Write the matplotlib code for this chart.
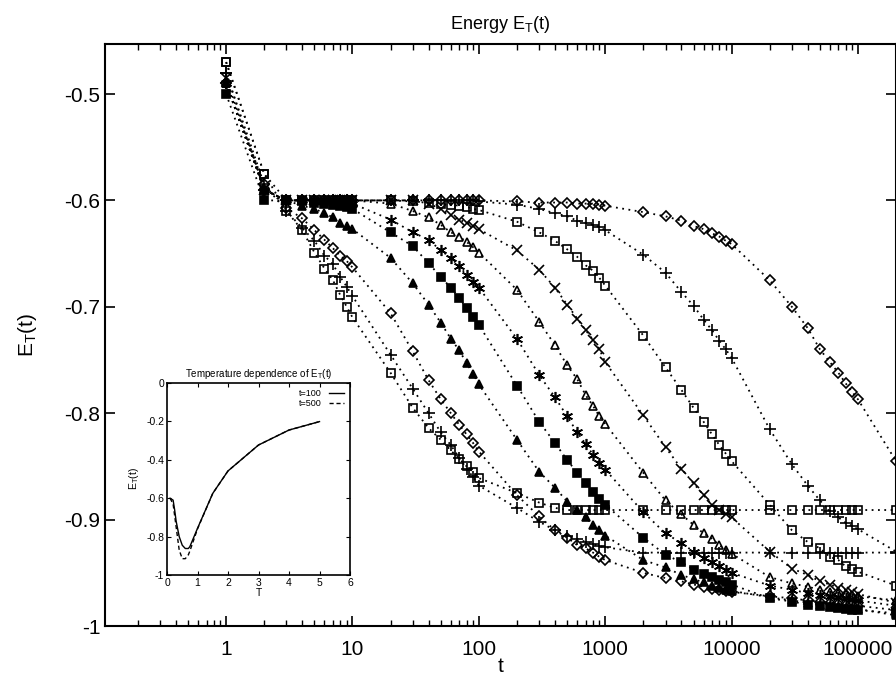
import matplotlib.pyplot as plt
from matplotlib.ticker import FixedLocator, FuncFormatter, LogLocator, NullFormatter

plt.rcParams['font.family'] = ['Liberation Sans', 'DejaVu Sans']
plt.rcParams['mathtext.default'] = 'regular'
plt.rcParams['axes.unicode_minus'] = False

# time grid: 1..9 per decade, then 1e5 and 2e5
t = [1, 2, 3, 4, 5, 6, 7, 8, 9,
     10, 20, 30, 40, 50, 60, 70, 80, 90,
     100, 200, 300, 400, 500, 600, 700, 800, 900,
     1000, 2000, 3000, 4000, 5000, 6000, 7000, 8000, 9000,
     10000, 20000, 30000, 40000, 50000, 60000, 70000, 80000, 90000,
     100000, 200000]

# energy curves, slowest first
e_dia1 = [-0.490, -0.590, -0.600, -0.600, -0.600, -0.600, -0.600, -0.600, -0.600,
          -0.600, -0.600, -0.600, -0.600, -0.600, -0.600, -0.600, -0.600, -0.600,
          -0.600, -0.601, -0.602, -0.602, -0.602, -0.603, -0.603, -0.603, -0.604,
          -0.605, -0.611, -0.615, -0.619, -0.624, -0.627, -0.631, -0.634, -0.638,
          -0.641, -0.675, -0.700, -0.720, -0.740, -0.752, -0.762, -0.772, -0.780,
          -0.787, -0.845]
e_pls1 = [-0.480, -0.590, -0.600, -0.600, -0.600, -0.600, -0.600, -0.600, -0.600,
          -0.600, -0.600, -0.600, -0.600, -0.600, -0.600, -0.600, -0.600, -0.600,
          -0.601, -0.604, -0.608, -0.612, -0.615, -0.619, -0.621, -0.623, -0.625,
          -0.628, -0.651, -0.668, -0.686, -0.699, -0.712, -0.722, -0.732, -0.740,
          -0.748, -0.815, -0.848, -0.868, -0.882, -0.892, -0.898, -0.903, -0.906,
          -0.909, -0.930]
e_box1 = [-0.470, -0.575, -0.600, -0.600, -0.600, -0.600, -0.600, -0.600, -0.600,
          -0.600, -0.600, -0.601, -0.602, -0.603, -0.604, -0.605, -0.606, -0.608,
          -0.609, -0.620, -0.630, -0.638, -0.646, -0.653, -0.661, -0.666, -0.673,
          -0.680, -0.727, -0.757, -0.778, -0.795, -0.808, -0.820, -0.830, -0.838,
          -0.845, -0.886, -0.910, -0.921, -0.927, -0.935, -0.938, -0.944, -0.946,
          -0.949, -0.962]
e_crs = [-0.485, -0.590, -0.600, -0.600, -0.600, -0.600, -0.600, -0.600, -0.600,
         -0.600, -0.600, -0.600, -0.603, -0.608, -0.614, -0.618, -0.621, -0.624,
         -0.627, -0.647, -0.665, -0.682, -0.698, -0.711, -0.722, -0.731, -0.740,
         -0.752, -0.802, -0.832, -0.852, -0.866, -0.877, -0.886, -0.891, -0.895,
         -0.898, -0.930, -0.946, -0.952, -0.958, -0.961, -0.964, -0.966, -0.968,
         -0.970, -0.978]
e_tri = [-0.490, -0.590, -0.600, -0.600, -0.600, -0.600, -0.600, -0.600, -0.600,
         -0.600, -0.603, -0.610, -0.616, -0.623, -0.630, -0.634, -0.639, -0.644,
         -0.649, -0.684, -0.714, -0.736, -0.755, -0.768, -0.783, -0.793, -0.803,
         -0.810, -0.856, -0.882, -0.895, -0.905, -0.913, -0.918, -0.924, -0.929,
         -0.932, -0.954, -0.960, -0.963, -0.966, -0.968, -0.969, -0.970, -0.971,
         -0.972, -0.976]
e_star = [-0.490, -0.590, -0.600, -0.600, -0.600, -0.600, -0.600, -0.600, -0.600,
          -0.603, -0.618, -0.630, -0.637, -0.647, -0.654, -0.662, -0.670, -0.677,
          -0.682, -0.730, -0.764, -0.785, -0.803, -0.818, -0.829, -0.839, -0.847,
          -0.853, -0.893, -0.913, -0.922, -0.930, -0.936, -0.940, -0.944, -0.947,
          -0.950, -0.962, -0.966, -0.969, -0.971, -0.972, -0.973, -0.974, -0.975,
          -0.976, -0.981]
e_boxf = [-0.500, -0.600, -0.600, -0.601, -0.602, -0.603, -0.604, -0.605, -0.606,
          -0.608, -0.630, -0.643, -0.659, -0.672, -0.682, -0.692, -0.701, -0.710,
          -0.717, -0.774, -0.808, -0.828, -0.844, -0.856, -0.866, -0.874, -0.881,
          -0.886, -0.917, -0.933, -0.940, -0.947, -0.951, -0.954, -0.957, -0.959,
          -0.961, -0.974, -0.977, -0.980, -0.981, -0.982, -0.983, -0.984, -0.985,
          -0.985, -0.988]
e_trif = [-0.490, -0.590, -0.600, -0.605, -0.608, -0.612, -0.616, -0.621, -0.624,
          -0.627, -0.654, -0.678, -0.698, -0.715, -0.730, -0.741, -0.753, -0.763,
          -0.773, -0.825, -0.855, -0.870, -0.883, -0.891, -0.898, -0.905, -0.910,
          -0.915, -0.938, -0.945, -0.952, -0.956, -0.959, -0.962, -0.964, -0.966,
          -0.967, -0.973, -0.976, -0.978, -0.980, -0.981, -0.982, -0.983, -0.984,
          -0.984, -0.990]
e_dia2 = [-0.490, -0.585, -0.607, -0.617, -0.628, -0.637, -0.645, -0.652, -0.657,
          -0.663, -0.706, -0.742, -0.769, -0.787, -0.800, -0.811, -0.820, -0.828,
          -0.836, -0.877, -0.897, -0.910, -0.917, -0.924, -0.927, -0.931, -0.935,
          -0.938, -0.950, -0.955, -0.958, -0.961, -0.963, -0.965, -0.966, -0.967,
          -0.968, -0.972, -0.974, -0.976, -0.977, -0.978, -0.979, -0.980, -0.980,
          -0.981, -0.985]
e_pls2 = [-0.480, -0.585, -0.610, -0.626, -0.638, -0.652, -0.660, -0.672, -0.681,
          -0.690, -0.745, -0.777, -0.800, -0.818, -0.830, -0.842, -0.852, -0.860,
          -0.868, -0.889, -0.902, -0.910, -0.915, -0.918, -0.921, -0.923, -0.925,
          -0.926, -0.931, -0.931, -0.931, -0.931, -0.931, -0.931, -0.931, -0.931,
          -0.931, -0.931, -0.931, -0.931, -0.931, -0.931, -0.931, -0.931, -0.931,
          -0.931, -0.931]
e_box2 = [-0.470, -0.575, -0.610, -0.628, -0.649, -0.664, -0.675, -0.689, -0.700,
          -0.710, -0.762, -0.795, -0.814, -0.825, -0.835, -0.843, -0.850, -0.855,
          -0.861, -0.875, -0.884, -0.889, -0.891, -0.891, -0.891, -0.891, -0.891,
          -0.891, -0.891, -0.891, -0.891, -0.891, -0.891, -0.891, -0.891, -0.891,
          -0.891, -0.891, -0.891, -0.891, -0.891, -0.891, -0.891, -0.891, -0.891,
          -0.891, -0.891]

# inset: E at fixed t versus temperature T
T100 = [0.1, 0.2, 0.25, 0.3, 0.4, 0.5, 0.6, 0.7, 0.75, 1.0, 1.5, 2.0, 3.0, 4.0, 5.0]
E100 = [-0.60, -0.61, -0.66, -0.72, -0.80, -0.845, -0.862, -0.862, -0.852,
        -0.757, -0.575, -0.458, -0.323, -0.245, -0.201]
T500 = [0.1, 0.2, 0.3, 0.4, 0.5, 0.6, 0.7, 0.75, 1.0, 1.5, 2.0, 3.0, 4.0, 5.0]
E500 = [-0.60, -0.63, -0.75, -0.87, -0.915, -0.915, -0.895, -0.875,
        -0.76, -0.575, -0.458, -0.323, -0.245, -0.201]

series = [
    (e_dia1, dict(marker='D', ms=5, mfc='none')),
    (e_pls1, dict(marker='+', ms=8)),
    (e_box1, dict(marker='s', ms=6, mfc='none')),
    (e_crs, dict(marker='x', ms=7)),
    (e_tri, dict(marker='^', ms=6, mfc='none')),
    (e_star, dict(marker=(6, 2, 0), ms=8)),
    (e_boxf, dict(marker='s', ms=6)),
    (e_trif, dict(marker='^', ms=6)),
    (e_dia2, dict(marker='D', ms=5, mfc='none')),
    (e_pls2, dict(marker='+', ms=8)),
    (e_box2, dict(marker='s', ms=6, mfc='none')),
]

fig = plt.figure(figsize=(8.96, 6.8), dpi=100)
ax = fig.add_axes([105 / 896, 54 / 680, 791 / 896, 582 / 680])

for e, style in series:
    ax.plot(t, e, color='black', linestyle=(0, (1, 2.5)), linewidth=1.3,
            mec='black', mew=1.2, **style)

ax.set_xscale('log')
ax.set_xlim(0.11, 2e5)
ax.set_ylim(-1.0, -0.453)
ax.xaxis.set_major_locator(FixedLocator([1, 10, 100, 1000, 10000, 100000]))
ax.xaxis.set_major_formatter(FuncFormatter(lambda v, p: f'{v:.0f}'))
ax.xaxis.set_minor_locator(LogLocator(base=10, subs=range(2, 10)))
ax.xaxis.set_minor_formatter(NullFormatter())
ax.yaxis.set_major_locator(FixedLocator([-1.0, -0.9, -0.8, -0.7, -0.6, -0.5]))
ax.yaxis.set_major_formatter(FuncFormatter(lambda v, p: f'{v:g}'))
ax.tick_params(which='both', direction='in', top=True, right=True, labelsize=15)
ax.tick_params(which='major', length=7, width=1.2)
ax.tick_params(which='minor', length=4, width=1.0)
ax.tick_params(axis='x', pad=10)
for s in ax.spines.values():
    s.set_linewidth(1.5)

ax.set_title('Energy E$_T$(t)', fontsize=13, pad=11)
ax.set_xlabel('t', fontsize=15, labelpad=-1)
ax.set_ylabel('E$_T$(t)', fontsize=15, labelpad=18)

# inset
ins = fig.add_axes([167 / 896, 105 / 680, 183 / 896, 192 / 680])
ins.plot(T100, E100, color='black', linewidth=1.0, label='t=100')
ins.plot(T500, E500, color='black', linewidth=1.0, linestyle=(0, (3, 2)), label='t=500')
ins.set_xlim(0, 6)
ins.set_ylim(-1, 0)
ins.set_xticks([0, 1, 2, 3, 4, 5, 6])
ins.set_yticks([-1, -0.8, -0.6, -0.4, -0.2, 0])
ins.yaxis.set_major_formatter(FuncFormatter(lambda v, p: f'{v:g}'))
ins.tick_params(direction='in', top=True, right=True, labelsize=7.5, length=3, pad=2)
for s in ins.spines.values():
    s.set_linewidth(1.2)
ins.set_title('Temperature dependence of E$_T$(t)', fontsize=7, pad=4)
ins.set_xlabel('T', fontsize=7.5, labelpad=0)
ins.set_ylabel('E$_T$(t)', fontsize=7.5, labelpad=4)
ins.legend(loc='upper right', fontsize=6.5, frameon=False, handlelength=1.6,
           labelspacing=0.1, borderaxespad=0.3, markerfirst=False)

fig.savefig('out.png', dpi=100)
